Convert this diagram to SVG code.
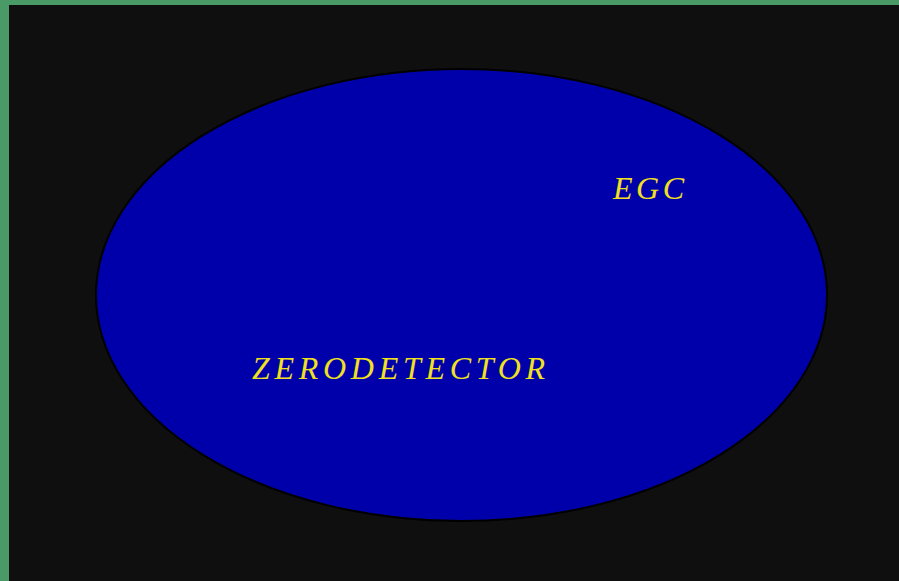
<svg xmlns="http://www.w3.org/2000/svg" width="899" height="581" viewBox="0 0 899 581">
<style>
.lbl{font-family:"Liberation Serif","DejaVu Serif",serif;font-style:italic;font-size:32px;fill:#f0e020;}
</style>
<rect x="0" y="0" width="899" height="581" fill="#4a9a68"/>
<rect x="9" y="5" width="890" height="576" fill="#0f0f0f"/>
<g id="EGC">
<ellipse cx="461.5" cy="295" rx="365.5" ry="226" fill="#0000aa" stroke="#000" stroke-width="2"/>
<text class="lbl" x="613" y="199" textLength="71" lengthAdjust="spacing">EGC</text>
</g>
<g id="ZERODETECTOR">
<text class="lbl" x="252" y="379" textLength="293" lengthAdjust="spacing">ZERODETECTOR</text>
</g>
<g id="connectors"></g>
</svg>
